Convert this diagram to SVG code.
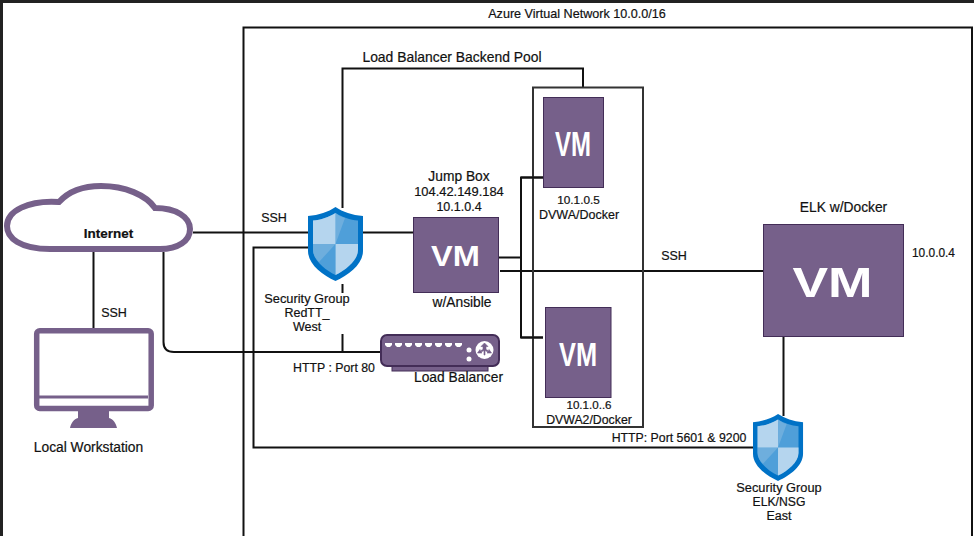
<svg xmlns="http://www.w3.org/2000/svg" width="974" height="536" viewBox="0 0 974 536">
<style>
text{font-family:"Liberation Sans",Arial,sans-serif;font-size:12.500px;fill:#111;stroke:#111;stroke-width:.2;text-anchor:middle}
.c{fill:none;stroke:#111;stroke-width:2}
.vm{fill:#76608a;stroke:#432d57;stroke-width:1}
text.g{fill:#fff;stroke:#fff;stroke-width:0;font-weight:700;font-size:20px}
.p{fill:#76608a}
.b{font-size:13.800px}
</style>
<defs>
<g id="sh">
<path d="M27.500 0C20 5 11 8 0 9V44C0 57 14 68 27.500 74C41 68 55 57 55 44V9C44 8 35 5 27.500 0Z" fill="#0072c6"/>
<path d="M27.500 6C21 10 13 13 5 13.500V43C5 53 17 63 27.500 68Z" fill="#4f9fd9"/>
<path d="M27.500 6C34 10 42 13 50 13.500V43C50 53 38 63 27.500 68Z" fill="#4f9fd9"/>
<path d="M5 37H27.500L11 55C7 51 5 47 5 43Z" fill="#6eaedd"/>
<path d="M27.500 37V6C30 8 33 10 37 11L27.500 37Z" fill="#6eaedd"/>
<path d="M5 13.500C13 13 21 10 27.500 6V37H5Z" fill="#b5d5ee"/>
<path d="M27.500 37H50V43C50 53 38 63 27.500 68Z" fill="#b5d5ee"/>
</g>
</defs>
<rect width="974" height="536" fill="#fff"/>
<path d="M0 0H974V3H3V536H0Z" fill="#222"/>
<rect id="vnet" x="243.500" y="27.500" width="728.500" height="520" fill="none" stroke="#111" stroke-width="2"/>
<text x="577" y="18" style="font-size:12.600px">Azure Virtual Network 10.0.0/16</text>
<g id="connectors">
<path class="c" d="M93.500 252V328"/>
<path class="c" d="M193 232.500H310M362 232.500H414"/>
<path class="c" d="M163.500 252V342Q163.500 352 174 352H381"/>
<path class="c" d="M342.500 208V68.500H583V87"/>
<path class="c" d="M342.500 284V294M342.500 334V352"/>
<path class="c" d="M310 247.500H253.500V447.500H753"/>
<path class="c" d="M499 257.500H521M543 177.500H521V337.500H543"/>
<path class="c" d="M500 271H763"/>
<path class="c" d="M783.500 337V416"/>
</g>
<g id="backend-pool"><rect x="533" y="87.500" width="110" height="339.500" fill="none" stroke="#333" stroke-width="2"/></g>
<path class="c" d="M521 177.500H543M521 337.500H543"/>
<text x="452" y="62" style="font-size:13.900px">Load Balancer Backend Pool</text>
<text x="274" y="222">SSH</text>
<text x="114" y="317">SSH</text>
<text x="674" y="260">SSH</text>
<g id="internet">
<path d="M50 249C20 249 7 238 7 226C7 211 28 200 59 202C68 192 82 186 101 186C125 186 146 195 155 208C176 208 190 217 190 229C190 241 178 249 160 249Z" fill="#fff" stroke="#76608a" stroke-width="6"/>
<text x="108.500" y="238" style="font-weight:700;font-size:13.500px">Internet</text>
</g>
<g id="workstation">
<rect x="36.700" y="330.700" width="114.500" height="77.800" rx="3" fill="#fff" stroke="#76608a" stroke-width="5.500"/>
<path class="p" d="M39 395.500H148V398.500H39Z"/>
<path class="p" d="M78 410H109V418C113 419 116 423 117 428H70C71 423 74 419 78 418Z"/>
<text x="88.500" y="452" class="b">Local Workstation</text>
</g>
<g id="sg-west">
<use href="#sh" x="308" y="207"/>
<rect x="262" y="293" width="92" height="41" fill="#fff"/>
<text x="307" y="303" style="font-size:12.800px">Security Group</text>
<text x="307" y="317">RedTT_</text>
<text x="307" y="331">West</text>
</g>
<g id="jump-box">
<text x="459" y="181" class="b">Jump Box</text>
<text x="459" y="196" style="font-size:12.900px">104.42.149.184</text>
<text x="459" y="211">10.1.0.4</text>
<rect class="vm" x="413.500" y="217.500" width="85" height="75"/>
<text class="g" transform="translate(455.500 266) scale(1.630 1.470)" x="0" y="0">VM</text>
<text x="462" y="307" class="b">w/Ansible</text>
</g>
<g id="load-balancer">
<rect x="392" y="362" width="96" height="9" fill="#76608a" stroke="#432d57"/>
<rect x="381" y="335" width="118" height="31" rx="6" fill="#76608a" stroke="#432d57" stroke-width="2"/>
<path d="M385 343h7v2l-2 2h-3l-2-2ZM395 343h7v2l-2 2h-3l-2-2ZM405 343h7v2l-2 2h-3l-2-2ZM415 343h7v2l-2 2h-3l-2-2ZM425 343h7v2l-2 2h-3l-2-2ZM435 343h7v2l-2 2h-3l-2-2ZM445 343h7v2l-2 2h-3l-2-2ZM455 343h7v2l-2 2h-3l-2-2Z" fill="#fff"/>
<circle cx="469" cy="350" r="2.500" fill="#fff"/><circle cx="469" cy="359" r="2.500" fill="#fff"/>
<circle cx="484.500" cy="350" r="9" fill="#fff"/>
<path d="M484.500 343l3.500 3.500h-2v3l3 1.500v-1.500l2.500 3.500h-4.500l1-1-3-1.500v4.500h-1v-4.500l-3 1.500 1 1h-4.500l2.500-3.500v1.500l3-1.500v-3h-2Z" fill="#76608a" stroke="#76608a" stroke-width=".6"/>
<text x="458.500" y="382" class="b">Load Balancer</text>
</g>
<text x="334" y="372" style="font-size:12.300px">HTTP : Port 80</text>
<g id="vm1">
<rect class="vm" x="543.500" y="97.500" width="60" height="90"/>
<text class="g" transform="translate(573 156) scale(1.200 1.750)" x="0" y="0">VM</text>
<text x="578.500" y="204" style="font-size:11.800px">10.1.0.5</text>
<text x="579" y="219">DVWA/Docker</text>
</g>
<g id="vm2">
<rect class="vm" x="545.500" y="307.500" width="65.500" height="90"/>
<text class="g" transform="translate(578 366) scale(1.270 1.680)" x="0" y="0">VM</text>
<text x="589" y="409" style="font-size:11.600px">10.1.0..6</text>
<text x="589" y="424" style="font-size:12.300px">DVWA2/Docker</text>
</g>
<text x="679" y="442" style="font-size:12.300px">HTTP: Port 5601 &amp; 9200</text>
<g id="elk">
<text x="843.500" y="212" class="b">ELK w/Docker</text>
<rect class="vm" x="763.500" y="224.500" width="140" height="112"/>
<text class="g" transform="translate(832.500 297) scale(2.670 2.170)" x="0" y="0">VM</text>
<text x="933.500" y="257" style="font-size:11.900px">10.0.0.4</text>
</g>
<g id="sg-east">
<use href="#sh" transform="translate(753 414) scale(.91 .905)"/>
<text x="779" y="492" style="font-size:12.800px">Security Group</text>
<text x="779" y="506" style="font-size:12.200px">ELK/NSG</text>
<text x="779" y="520">East</text>
</g>
</svg>
